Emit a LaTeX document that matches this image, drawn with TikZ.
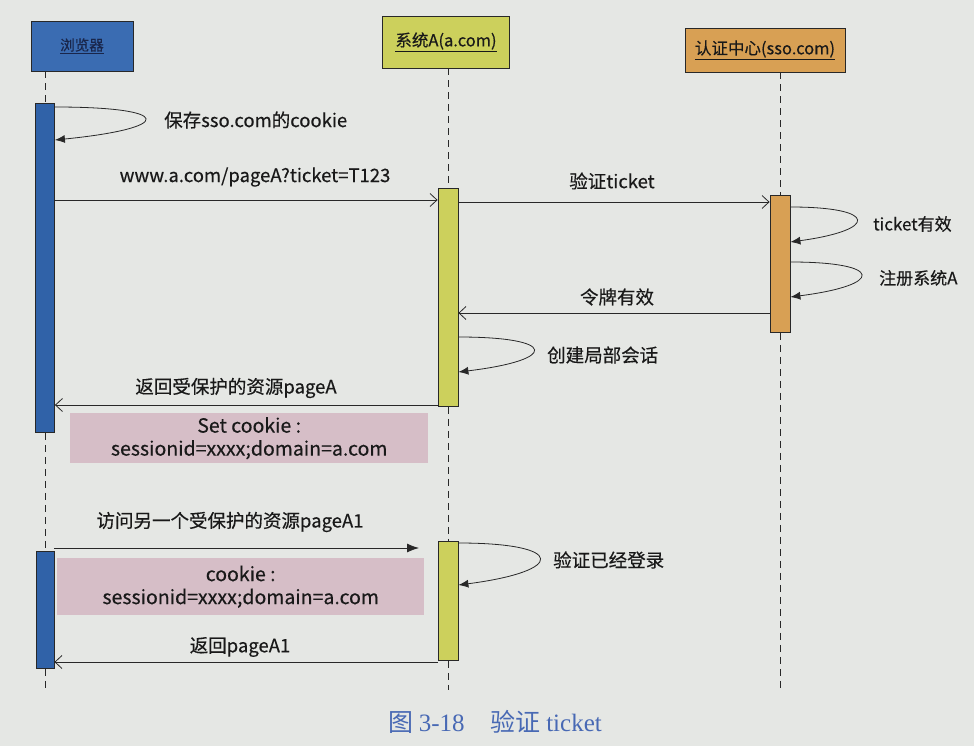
\documentclass[tikz,border=0pt]{standalone}
\usepackage{fontspec}
\setmainfont{Noto Sans CJK SC}[FakeBold=0.4]
\newfontfamily\capserif{Liberation Serif}
\newfontfamily\capcjk{Noto Sans CJK SC}
\usetikzlibrary{arrows.meta,calc}
\definecolor{pagebg}{RGB}{229,231,228}
\definecolor{blueC}{RGB}{58,108,178}
\definecolor{blueBar}{RGB}{48,98,168}
\definecolor{navyT}{RGB}{25,38,75}
\definecolor{yelC}{RGB}{204,208,92}
\definecolor{oraC}{RGB}{216,160,84}
\definecolor{pinkC}{RGB}{214,190,199}
\definecolor{lineC}{RGB}{40,40,40}
\definecolor{txtC}{RGB}{25,25,25}
\definecolor{capC}{RGB}{72,105,180}
\tikzset{
  hdr/.style={draw=lineC, line width=0.8pt, inner sep=0pt, font=\fontsize{16.5}{19}\selectfont},
  actbar/.style={draw=lineC, line width=0.8pt, inner sep=0pt, anchor=north},
  life/.style={draw=lineC, line width=0.8pt, dash pattern=on 7pt off 5pt},
  msg/.style={draw=lineC, line width=0.8pt, -{Straight Barb[length=7pt,width=13pt]}},
  selfmsg/.style={draw=lineC, line width=0.8pt, -{Latex[length=10pt,width=8pt]}},
  fmsg/.style={draw=lineC, line width=0.8pt, -{Latex[length=12pt,width=9pt]}},
  lbl/.style={font=\fontsize{18.5}{21}\selectfont, text=txtC, inner sep=1pt},
  slbl/.style={lbl, font=\fontsize{17}{20}\selectfont},
  notebox/.style={fill=pinkC, inner sep=0pt, anchor=north west, align=center,
    font=\fontsize{19.5}{23}\selectfont, text=txtC}
}
\begin{document}
\begin{tikzpicture}[x=1pt,y=-1pt]
\fill[pagebg] (0,0) rectangle (974,746);
\useasboundingbox (0,0) rectangle (974,746);

% headers
\node[hdr, fill=blueC, minimum width=102, minimum height=50, text=navyT, font=\fontsize{14.5}{17}\selectfont] (hB) at (82,46) {\underline{浏览器}};
\node[hdr, fill=yelC, minimum width=127, minimum height=52, text=txtC] (hA) at (446,42) {\underline{系统A(a.com)}};
\node[hdr, fill=oraC, minimum width=160, minimum height=44, text=txtC] (hS) at (765,50) {\underline{认证中心(sso.com)}};

% activation bars
\node[actbar, fill=blueBar, minimum width=19, minimum height=329] (bB1) at (45,103) {};
\node[actbar, fill=blueBar, minimum width=18, minimum height=117] (bB2) at (45,551) {};
\node[actbar, fill=yelC, minimum width=20, minimum height=218] (bA1) at (448,188) {};
\node[actbar, fill=yelC, minimum width=20, minimum height=119] (bA2) at (448,541) {};
\node[actbar, fill=oraC, minimum width=20, minimum height=137] (bS1) at (780,195) {};

% lifeline ends
\coordinate (eB) at (45,690);
\coordinate (eA) at (448,690);
\coordinate (eS) at (780,690);

% lifelines
\draw[life] (hB.south -| bB1.north) -- (bB1.north);
\draw[life] (bB1.south) -- (bB2.north);
\draw[life] (bB2.south) -- (eB);
\draw[life] (hA.south -| bA1.north) -- (bA1.north);
\draw[life] (bA1.south) -- (bA2.north);
\draw[life] (bA2.south) -- (eA);
\draw[life] (hS.south -| bS1.north) -- (bS1.north);
\draw[life] (bS1.south) -- (eS);

% 1 self: browser
\draw[selfmsg] ($(bB1.north east)+(0,4)$) .. controls +(120,0) and +(120,-12) .. ($(bB1.north east)+(0,37)$);
\node[lbl, anchor=west] (l1) at (163,120) {保存sso.com的cookie};

% 2 browser -> A
\draw[msg] ($(bB1.north east)+(0,97)$) -- ($(bA1.north west)+(0,12)$);
\node[lbl] (l2) at (255,177) {www.a.com/pageA?ticket=T123};

% 3 A -> SSO
\draw[msg] ($(bA1.north east)+(0,14)$) -- ($(bS1.north west)+(0,7)$);
\node[lbl] (l3) at (612,181) {验证ticket};

% 4 self SSO
\draw[selfmsg] ($(bS1.north east)+(0,12)$) .. controls +(88,0) and +(88,-12) .. ($(bS1.north east)+(0,47)$);
\node[slbl, anchor=west] (l4) at (872,224) {ticket有效};

% 5 self SSO
\draw[selfmsg] ($(bS1.north east)+(0,67)$) .. controls +(94,0) and +(94,-12) .. ($(bS1.north east)+(0,102)$);
\node[slbl, anchor=west] (l5) at (878,278) {注册系统A};

% 6 SSO -> A
\draw[msg] ($(bS1.north west)+(0,118)$) -- ($(bA1.north east)+(0,125)$);
\node[lbl] (l6) at (617,297) {令牌有效};

% 7 self A
\draw[selfmsg] ($(bA1.north east)+(0,149)$) .. controls +(100,0) and +(100,-12) .. ($(bA1.north east)+(0,184)$);
\node[lbl, anchor=west] (l7) at (546,355) {创建局部会话};

% 8 A -> browser
\draw[msg] ($(bA1.north west)+(0,217)$) -- ($(bB1.north east)+(0,302)$);
\node[lbl] (l8) at (236,388) {返回受保护的资源pageA};

% note 1
\node[notebox, minimum width=358, minimum height=50] (n1) at (70,413) {Set cookie :\\sessionid=xxxx;domain=a.com};

% 10 browser -> (towards A)
\coordinate (m10e) at (419,548);
\draw[fmsg] ($(bB2.north east)+(0,-3)$) -- (m10e);
\node[lbl] (l10) at (230,522) {访问另一个受保护的资源pageA1};

% note 2
\node[notebox, minimum width=367, minimum height=57] (n2) at (57,558) {cookie :\\sessionid=xxxx;domain=a.com};

% 12 self A
\draw[selfmsg] ($(bA2.north east)+(0,2)$) .. controls +(108,0) and +(108,-14) .. ($(bA2.north east)+(0,44)$);
\node[lbl, anchor=west] (l12) at (552,560) {验证已经登录};

% 13 A -> browser
\draw[msg] ($(bA2.north west)+(0,121)$) -- ($(bB2.north east)+(0,111)$);
\node[lbl] (l13) at (240,647) {返回pageA1};

% caption
\node[text=capC, inner sep=0pt, font=\fontsize{25}{28}\selectfont] (cap) at (495,722) {\capcjk 图 {\capserif 3-18}\hspace{26pt}验证 {\capserif ticket}};
\end{tikzpicture}
\end{document}
